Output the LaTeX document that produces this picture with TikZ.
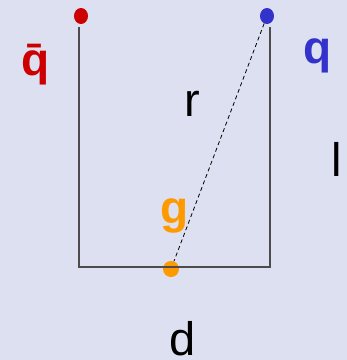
\documentclass[tikz,border=0pt]{standalone}
\usepackage{fontspec}
\setmainfont{Liberation Sans}
\usetikzlibrary{shapes.geometric}
\definecolor{bgblue}{RGB}{221,224,240}
\definecolor{qred}{RGB}{204,0,0}
\definecolor{qblue}{RGB}{51,51,204}
\definecolor{gorange}{RGB}{255,153,0}
\begin{document}
\begin{tikzpicture}[x=1pt, y=-1pt,
  dot/.style={ellipse, fill, inner sep=0pt, minimum width=14pt, minimum height=16pt},
  lbl/.style={anchor=base, inner sep=0pt, font=\fontsize{47}{47}\selectfont},
  blbl/.style={lbl, font=\fontsize{46}{46}\selectfont\bfseries}]
\fill[bgblue] (0,0) rectangle (347,360);
\useasboundingbox (0,0) rectangle (347,360);
% quark, antiquark and gluon
\node[dot, qred] (qbar) at (81,16) {};
\node[dot, qblue] (q) at (267,16) {};
\node[dot, gorange, minimum width=16pt] (g) at (171,269) {};
\coordinate (bl) at (79,267);
\coordinate (br) at (270,267);
% string
\draw[line width=1.2pt, black!70] ([yshift=-3pt]qbar.south -| bl) -- (bl) -- (br) -- ([yshift=-3pt]q.south -| br);
\draw[dashed, dash pattern=on 4pt off 3pt, line width=0.8pt] (q) -- (g);
% labels
\node[blbl, qred] (lqbar) at (36,75) {\={q}};
\node[blbl, qblue] (lq) at (318,63) {q};
\node[blbl, gorange] (lg) at (175,223) {g};
\node[lbl] (lr) at (192,116) {r};
\node[lbl] (ll) at (337,176) {l};
\node[lbl] (ld) at (183,355) {d};
\end{tikzpicture}
\end{document}
